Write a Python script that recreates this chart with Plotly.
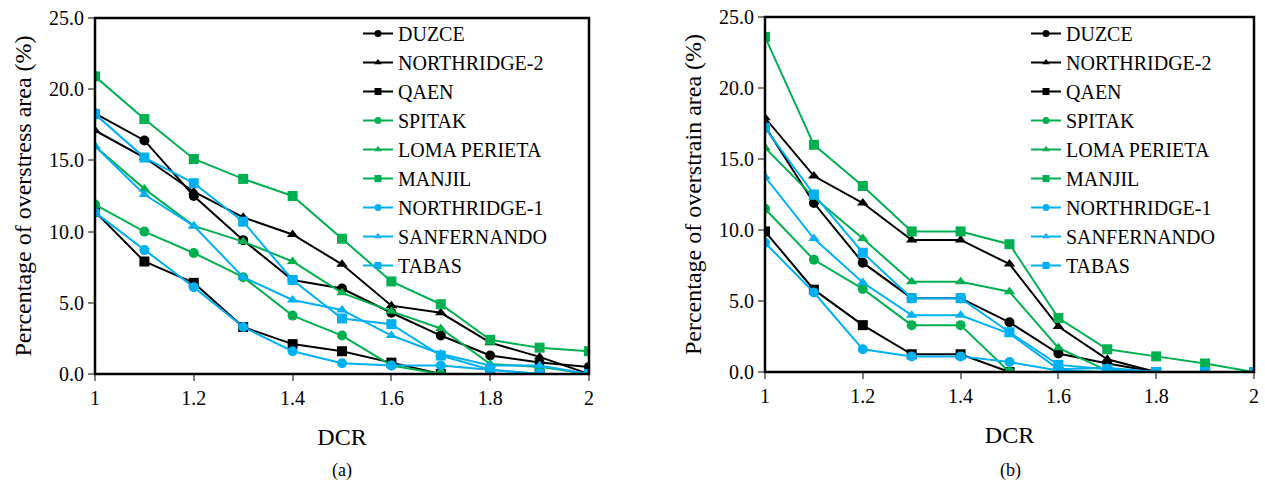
import plotly.graph_objects as go

dcr = [1.0, 1.1, 1.2, 1.3, 1.4, 1.5, 1.6, 1.7, 1.8, 1.9, 2.0]
names = ["DUZCE", "NORTHRIDGE-2", "QAEN", "SPITAK", "LOMA PERIETA", "MANJIL",
         "NORTHRIDGE-1", "SANFERNANDO", "TABAS"]

# (a) overstress area (%)
duzce_a = [18.3, 16.4, 12.5, 9.4, 6.6, 6.0, 4.3, 2.7, 1.3, 0.8, 0.5]
northridge2_a = [17.1, 15.2, 12.8, 11.0, 9.8, 7.7, 4.8, 4.3, 2.2, 1.2, 0.0]
qaen_a = [11.4, 7.9, 6.4, 3.3, 2.1, 1.6, 0.8, 0.0, 0.0, 0.0, 0.0]
spitak_a = [11.9, 10.0, 8.5, 6.8, 4.1, 2.7, 0.6, 0.0, 0.0, 0.0, 0.0]
loma_a = [16.0, 13.0, 10.4, 9.3, 7.9, 5.7, 4.4, 3.2, 0.7, 0.5, 0.0]
manjil_a = [20.9, 17.9, 15.1, 13.7, 12.5, 9.5, 6.5, 4.9, 2.4, 1.85, 1.6]
northridge1_a = [11.35, 8.7, 6.1, 3.3, 1.6, 0.75, 0.6, 0.6, 0.3, 0.0, 0.0]
sanfernando_a = [16.0, 12.6, 10.4, 6.8, 5.2, 4.5, 2.7, 1.4, 0.6, 0.6, 0.0]
tabas_a = [18.25, 15.2, 13.4, 10.7, 6.6, 3.9, 3.5, 1.3, 0.3, 0.0, 0.0]

# (b) overstrain area (%)
duzce_b = [17.3, 11.9, 7.7, 5.2, 5.2, 3.5, 1.3, 0.6, 0.0, 0.0, 0.0]
northridge2_b = [17.9, 13.8, 11.9, 9.3, 9.3, 7.6, 3.2, 0.9, 0.0, 0.0, 0.0]
qaen_b = [9.9, 5.8, 3.3, 1.25, 1.25, 0.0, 0.0, 0.0, 0.0, 0.0, 0.0]
spitak_b = [11.5, 7.9, 5.85, 3.3, 3.3, 0.0, 0.0, 0.0, 0.0, 0.0, 0.0]
loma_b = [15.8, 12.3, 9.4, 6.35, 6.35, 5.65, 1.7, 0.1, 0.0, 0.0, 0.0]
manjil_b = [23.6, 16.0, 13.1, 9.9, 9.9, 9.0, 3.8, 1.6, 1.1, 0.6, 0.0]
northridge1_b = [9.1, 5.6, 1.6, 1.1, 1.1, 0.7, 0.1, 0.0, 0.0, 0.0, 0.0]
sanfernando_b = [13.75, 9.4, 6.3, 4.0, 4.0, 2.7, 0.2, 0.3, 0.0, 0.0, 0.0]
tabas_b = [17.2, 12.5, 8.4, 5.2, 5.2, 2.8, 0.5, 0.2, 0.0, 0.0, 0.0]

series_a = [duzce_a, northridge2_a, qaen_a, spitak_a, loma_a, manjil_a,
            northridge1_a, sanfernando_a, tabas_a]
series_b = [duzce_b, northridge2_b, qaen_b, spitak_b, loma_b, manjil_b,
            northridge1_b, sanfernando_b, tabas_b]

BLACK, GREEN, CYAN = "#000000", "#00B050", "#00B0F0"
colors = [BLACK, BLACK, BLACK, GREEN, GREEN, GREEN, CYAN, CYAN, CYAN]
symbols = ["circle", "triangle-up", "square"] * 3

FONT = "Liberation Serif"
fig = go.Figure()

for series, xr, yr, lg in ((series_a, "x", "y", "legend"), (series_b, "x2", "y2", "legend2")):
    for i, nm in enumerate(names):
        fig.add_trace(go.Scatter(
            x=dcr, y=series[i], name=nm, mode="lines+markers", showlegend=False,
            line=dict(color=colors[i], width=2),
            marker=dict(symbol=symbols[i], size=10, color=colors[i]),
            xaxis=xr, yaxis=yr))
    # legend entries (smaller markers, as in the reference legend)
    for i, nm in enumerate(names):
        fig.add_trace(go.Scatter(
            x=[None], y=[None], name=nm, mode="lines+markers", showlegend=True,
            line=dict(color=colors[i], width=2),
            marker=dict(symbol=symbols[i], size=7, color=colors[i]),
            xaxis=xr, yaxis=yr, legend=lg))

W, H = 1265, 487


def px(sx):
    return sx / W


def py(sy):
    return 1 - sy / H


axis_common = dict(
    showgrid=False, zeroline=False, showline=False, automargin=False,
    ticks="outside", tickcolor="#7f7f7f", ticklen=6, tickwidth=1.5,
    tickfont=dict(family=FONT, size=20, color="black"),
)
xa = dict(axis_common, range=[1, 2], dtick=0.2, tick0=1,
          title=dict(text="DCR", font=dict(family=FONT, size=24, color="black"), standoff=20))
ya = dict(axis_common, range=[0, 25], dtick=5, tickformat=".1f")

legend_common = dict(xanchor="left", yanchor="top", bgcolor="rgba(0,0,0,0)",
                     font=dict(family=FONT, size=20, color="black"),
                     tracegroupgap=0, itemsizing="trace")

A = dict(x0=95, x1=589, y0=18, y1=374)     # panel (a) plot area, pixels
B = dict(x0=765, x1=1254, y0=17, y1=372)   # panel (b) plot area, pixels

fig.update_layout(
    width=W, height=H, autosize=False,
    margin=dict(l=0, r=0, t=0, b=0, autoexpand=False),
    paper_bgcolor="white", plot_bgcolor="white",
    font=dict(family=FONT, color="black"),
    xaxis=dict(xa, domain=[px(A["x0"]), px(A["x1"])], anchor="y"),
    yaxis=dict(ya, domain=[py(A["y1"]), py(A["y0"])], anchor="x",
               title=dict(text="Percentage of overstress area (%)",
                          font=dict(family=FONT, size=24, color="black"), standoff=10)),
    xaxis2=dict(xa, domain=[px(B["x0"]), px(B["x1"])], anchor="y2"),
    yaxis2=dict(ya, domain=[py(B["y1"]), py(B["y0"])], anchor="x2",
                title=dict(text="Percentage of overstrain area (%)",
                           font=dict(family=FONT, size=24, color="black"), standoff=10)),
    legend=dict(legend_common, x=px(358), y=py(14)),
    legend2=dict(legend_common, x=px(1026), y=py(14)),
    showlegend=True,
)

# black frame around each plot area (paper-referenced so it is not clipped)
for P in (A, B):
    fig.add_shape(type="rect", xref="paper", yref="paper",
                  x0=px(P["x0"]), x1=px(P["x1"]), y0=py(P["y1"]), y1=py(P["y0"]),
                  line=dict(color="black", width=2.5), layer="above")

fig.add_annotation(text="(a)", x=px(342), y=py(470), xref="paper", yref="paper",
                   xanchor="center", yanchor="middle", showarrow=False,
                   font=dict(family=FONT, size=18, color="black"))
fig.add_annotation(text="(b)", x=px(1010), y=py(470), xref="paper", yref="paper",
                   xanchor="center", yanchor="middle", showarrow=False,
                   font=dict(family=FONT, size=18, color="black"))

fig.write_html("out.html", config={"displayModeBar": False},
               post_script="document.body.style.margin='0';")
